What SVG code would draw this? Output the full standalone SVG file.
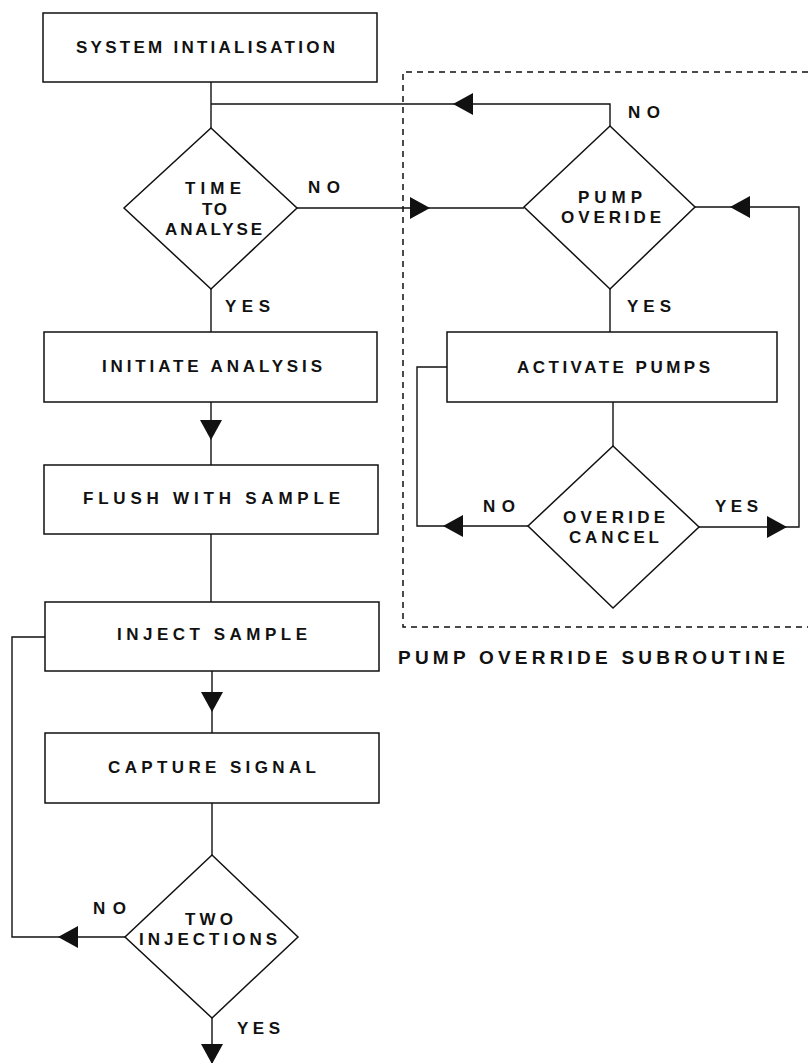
<svg xmlns="http://www.w3.org/2000/svg" width="808" height="1063" viewBox="0 0 808 1063">
<style>
.box{fill:#fff;stroke:#111;stroke-width:1.5}
.ln{fill:none;stroke:#111;stroke-width:1.4}
.dash{fill:none;stroke:#111;stroke-width:1.5;stroke-dasharray:6 5}
.t{font-family:"Liberation Sans",Arial,sans-serif;font-weight:bold;font-size:17px;fill:#111}
.big{font-size:19px}
.ah{fill:#111}
</style>
<defs>
<path id="arr" d="M0,0 L-20,-11 L-20,11 Z"/>
</defs>
<rect width="808" height="1063" fill="#fff"/>
<g id="subroutine-frame">
<path class="dash" d="M808,72 H403 V627 H808"/>
<text class="t big" x="398" y="664" textLength="387" lengthAdjust="spacing">PUMP OVERRIDE SUBROUTINE</text>
</g>
<g id="connectors">
<path class="ln" d="M211,82 V128"/>
<path class="ln" d="M610,126 V104 H211"/>
<path class="ln" d="M297,208 H524"/>
<path class="ln" d="M695,207 H799 V527 H699"/>
<path class="ln" d="M610,289 V332"/>
<path class="ln" d="M613,402 V446"/>
<path class="ln" d="M447,367 H417 V526 H528"/>
<path class="ln" d="M211,289 V332"/>
<path class="ln" d="M211,402 V465"/>
<path class="ln" d="M211,534 V602"/>
<path class="ln" d="M212,671 V733"/>
<path class="ln" d="M45,637 H12 V937 H125"/>
<path class="ln" d="M212,803 V855"/>
<path class="ln" d="M212,1018 V1063"/>
<use href="#arr" class="ah" transform="translate(453,104) rotate(180)"/>
<use href="#arr" class="ah" transform="translate(430,208)"/>
<use href="#arr" class="ah" transform="translate(730,207) rotate(180)"/>
<use href="#arr" class="ah" transform="translate(443,526) rotate(180)"/>
<use href="#arr" class="ah" transform="translate(787,527)"/>
<use href="#arr" class="ah" transform="translate(211,440) rotate(90)"/>
<use href="#arr" class="ah" transform="translate(212,712) rotate(90)"/>
<use href="#arr" class="ah" transform="translate(58,937) rotate(180)"/>
<use href="#arr" class="ah" transform="translate(212,1064) rotate(90)"/>
<text class="t" x="308" y="193" textLength="32" lengthAdjust="spacing">NO</text>
<text class="t" x="225" y="312" textLength="45" lengthAdjust="spacing">YES</text>
<text class="t" x="628" y="118" textLength="32" lengthAdjust="spacing">NO</text>
<text class="t" x="627" y="312" textLength="44" lengthAdjust="spacing">YES</text>
<text class="t" x="483" y="512" textLength="32" lengthAdjust="spacing">NO</text>
<text class="t" x="715" y="512" textLength="43" lengthAdjust="spacing">YES</text>
<text class="t" x="93" y="914" textLength="33" lengthAdjust="spacing">NO</text>
<text class="t" x="237" y="1034" textLength="43" lengthAdjust="spacing">YES</text>
</g>
<g id="system-init">
<rect class="box" x="43" y="13" width="334" height="69"/>
<text class="t" x="76" y="53" textLength="259" lengthAdjust="spacing">SYSTEM INTIALISATION</text>
</g>
<g id="time-to-analyse">
<polygon class="box" points="211,128 297,208 211,289 124,208"/>
<text class="t" x="185" y="194" textLength="56" lengthAdjust="spacing">TIME</text>
<text class="t" x="202" y="215" textLength="25" lengthAdjust="spacing">TO</text>
<text class="t" x="165" y="235" textLength="97" lengthAdjust="spacing">ANALYSE</text>
</g>
<g id="initiate-analysis">
<rect class="box" x="44" y="332" width="333" height="70"/>
<text class="t" x="102" y="372" textLength="220" lengthAdjust="spacing">INITIATE ANALYSIS</text>
</g>
<g id="flush-with-sample">
<rect class="box" x="44" y="465" width="334" height="69"/>
<text class="t" x="83" y="504" textLength="257" lengthAdjust="spacing">FLUSH WITH SAMPLE</text>
</g>
<g id="inject-sample">
<rect class="box" x="45" y="602" width="334" height="69"/>
<text class="t" x="117" y="640" textLength="190" lengthAdjust="spacing">INJECT SAMPLE</text>
</g>
<g id="capture-signal">
<rect class="box" x="45" y="733" width="334" height="70"/>
<text class="t" x="108" y="773" textLength="208" lengthAdjust="spacing">CAPTURE SIGNAL</text>
</g>
<g id="two-injections">
<polygon class="box" points="212,855 298,937 212,1018 125,937"/>
<text class="t" x="185" y="925" textLength="48" lengthAdjust="spacing">TWO</text>
<text class="t" x="139" y="945" textLength="138" lengthAdjust="spacing">INJECTIONS</text>
</g>
<g id="pump-override">
<polygon class="box" points="610,126 695,207 610,289 524,207"/>
<text class="t" x="578" y="203" textLength="64" lengthAdjust="spacing">PUMP</text>
<text class="t" x="561" y="223" textLength="100" lengthAdjust="spacing">OVERIDE</text>
</g>
<g id="activate-pumps">
<rect class="box" x="447" y="332" width="330" height="70"/>
<text class="t" x="517" y="373" textLength="193" lengthAdjust="spacing">ACTIVATE PUMPS</text>
</g>
<g id="override-cancel">
<polygon class="box" points="613,446 699,527 613,608 528,526"/>
<text class="t" x="563" y="523" textLength="102" lengthAdjust="spacing">OVERIDE</text>
<text class="t" x="569" y="543" textLength="90" lengthAdjust="spacing">CANCEL</text>
</g>
</svg>
